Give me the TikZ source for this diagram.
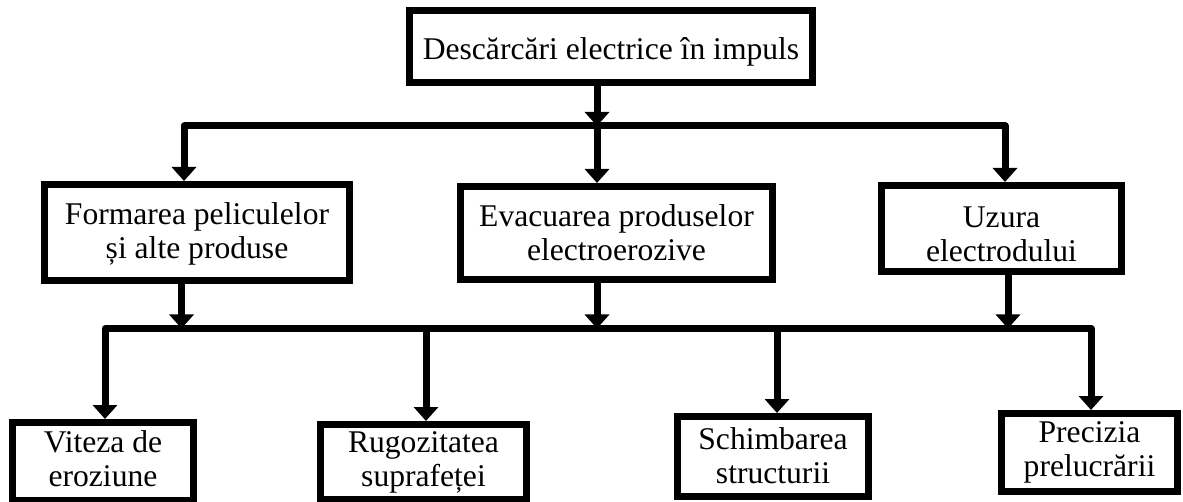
\documentclass[tikz,border=0pt]{standalone}
\usepackage{fontspec}
\setmainfont{Liberation Serif}
\usetikzlibrary{arrows.meta}

\begin{document}
\begin{tikzpicture}[x=1pt, y=-1pt,
    box/.style={draw=black, line width=7pt, inner sep=0pt, align=center,
      font=\fontsize{31.6}{34}\selectfont},
    wire/.style={line width=7pt, line join=round},
    arr/.style={wire, -{Triangle[width=24pt,length=14pt]}}]
  \useasboundingbox (0,0) rectangle (1183,502);

  % Cauza
  \node[box, minimum width=403pt, minimum height=72pt, text height=27pt, text depth=0pt] (desc) at (611,46.5) {Descărcări electrice în impuls};

  % Efecte primare
  \node[box, minimum width=305pt, minimum height=96pt, text height=61.5pt, text depth=8.5pt] (form) at (197,232.5) {Formarea peliculelor\\ și alte produse};
  \node[box, minimum width=312pt, minimum height=93pt, text height=63pt, text depth=7pt] (evac) at (616.5,233) {Evacuarea produselor\\electroerozive};
  \node[box, minimum width=240pt, minimum height=86pt, text height=68.5pt, text depth=1.5pt] (uzura) at (1001.5,228.5) {Uzura\\electrodului};

  % Rezultate
  \node[box, minimum width=181pt, minimum height=78pt, text height=59.5pt, text depth=10.5pt] (vit) at (103,461.5) {Viteza de\\eroziune};
  \node[box, minimum width=206pt, minimum height=75pt, text height=59pt, text depth=11pt] (rug) at (423.5,462) {Rugozitatea\\suprafeței};
  \node[box, minimum width=191pt, minimum height=80pt, text height=61.5pt, text depth=8.5pt] (sch) at (773,456.5) {Schimbarea\\structurii};
  \node[box, minimum width=176pt, minimum height=78pt, text height=58.5pt, text depth=11.5pt] (prec) at (1089.5,452.5) {Precizia\\prelucrării};

  % Bara superioara
  \coordinate (j0) at (597,126);
  \coordinate (b1l) at (184,126);
  \coordinate (b1r) at (1005,126);
  \draw[arr] (desc.south -| j0) -- (j0);
  \draw[arr] (j0) -- (b1l) -- (form.north -| b1l);
  \draw[arr] (j0) -- (b1r) -- (uzura.north -| b1r);
  \draw[arr] (j0) -- (evac.north -| j0);

  % Bara inferioara
  \coordinate (j1) at (181.5,328.5);
  \coordinate (j2) at (597,328.5);
  \coordinate (j3) at (1008,328.5);
  \coordinate (b2l) at (105,328.5);
  \coordinate (b2m) at (426,328.5);
  \coordinate (b2n) at (777,328.5);
  \coordinate (b2r) at (1091,328.5);
  \draw[arr] (form.south -| j1) -- (j1);
  \draw[arr] (evac.south -| j2) -- (j2);
  \draw[arr] (uzura.south -| j3) -- (j3);
  \draw[arr] (b2n) -- (b2l) -- (vit.north -| b2l);
  \draw[arr] (b2n) -- (b2r) -- (prec.north -| b2r);
  \draw[arr] (b2m) -- (rug.north -| b2m);
  \draw[arr] (b2n) -- (sch.north -| b2n);
\end{tikzpicture}
\end{document}
